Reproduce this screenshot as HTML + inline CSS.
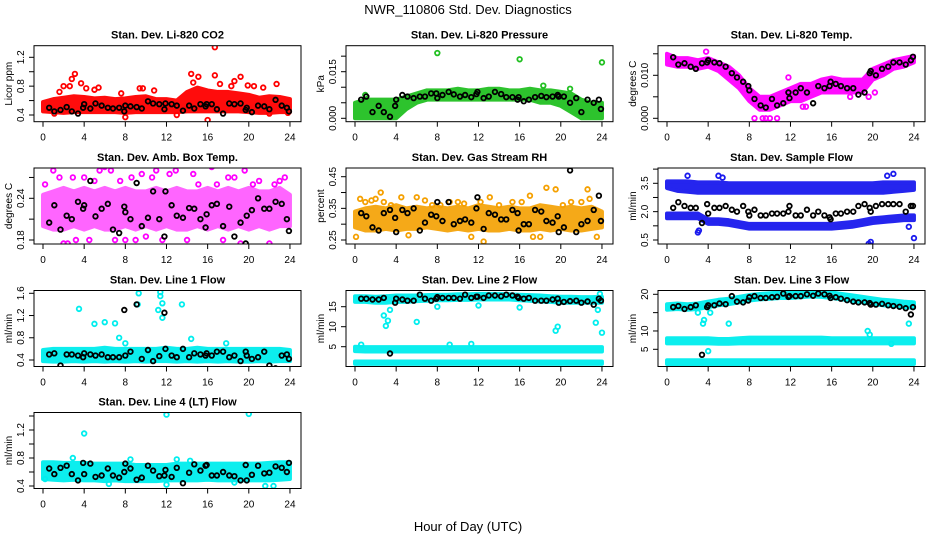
<!DOCTYPE html>
<html><head><meta charset="utf-8"><style>
html,body{margin:0;padding:0;background:#fff}
svg{display:block;font-family:"Liberation Sans",Arial,sans-serif}
</style></head><body>
<svg id="chart" width="936" height="540" viewBox="0 0 936 540"></svg>
<script>
const hours=[0,1,2,3,4,5,6,7,8,9,10,11,12,13,14,15,16,17,18,19,20,21,22,23,24];
const blackHours=[0.6,1.1,1.7,2.3,2.8,3.4,3.9,4.0,4.6,5.1,5.7,6.3,6.8,7.4,7.9,8.0,8.5,9.1,9.6,10.2,10.7,11.3,11.8,11.9,12.5,13.0,13.6,14.2,14.7,15.3,15.8,15.9,16.4,16.9,17.5,18.1,18.6,19.2,19.7,19.8,20.3,20.9,21.5,22.0,22.6,23.2,23.7,23.9];
const xTicks=[0,4,8,12,16,20,24];

const co2Low=[0.45,0.44,0.43,0.44,0.44,0.44,0.44,0.44,0.43,0.44,0.44,0.44,0.44,0.44,0.45,0.45,0.45,0.45,0.45,0.45,0.44,0.43,0.43,0.44,0.44];
const co2High=[0.58,0.62,0.64,0.66,0.65,0.63,0.64,0.62,0.63,0.65,0.66,0.62,0.62,0.6,0.72,0.78,0.74,0.72,0.72,0.7,0.68,0.64,0.66,0.65,0.62];
const co2OutX=[1.6,2,2.6,2.8,3.1,3.7,4.2,5,5.4,7.6,9.4,9.7,10.8,14.4,14.6,15.1,16,16.7,16.7,17.2,18.3,18.6,19.2,19.9,20.5,21.4,22.7,23.8,8,13,1.1,22];
const co2OutY=[0.72,0.8,0.8,0.9,0.97,0.84,0.77,0.75,0.78,0.7,0.77,0.77,0.74,0.97,0.85,0.93,0.33,1.34,0.95,0.83,0.8,0.87,0.93,0.81,0.8,0.78,0.83,0.43,0.37,0.4,0.42,0.42];
const co2Black=[0.5,0.45,0.47,0.51,0.45,0.42,0.5,0.55,0.49,0.56,0.53,0.5,0.49,0.5,0.45,0.53,0.52,0.51,0.49,0.59,0.56,0.55,0.48,0.56,0.55,0.53,0.46,0.53,0.49,0.55,0.52,0.55,0.55,0.48,0.42,0.56,0.55,0.56,0.47,0.5,0.44,0.53,0.52,0.48,0.61,0.53,0.5,0.45];
const presLow=[0,0,0,0,0,0.003,0.005,0.006,0.006,0.006,0.006,0.006,0.006,0.006,0.006,0.006,0.006,0.006,0.005,0.005,0.004,0.002,0,0,0];
const presHigh=[0.005,0.006,0.006,0.006,0.006,0.007,0.008,0.009,0.009,0.009,0.0095,0.009,0.009,0.0095,0.0095,0.009,0.009,0.0095,0.009,0.009,0.0085,0.008,0.006,0.005,0.005];
const presOutX=[8,16,24,18.3,20.9,1];
const presOutY=[0.021,0.019,0.018,0.0105,0.0095,0.0075];
const presBlack=[0.006,0.007,0.002,0.004,0.002,0.0005,0.004,0.006,0.0075,0.007,0.0065,0.007,0.007,0.008,0.008,0.0065,0.0075,0.0085,0.0077,0.007,0.0075,0.0068,0.0078,0.0085,0.0065,0.007,0.0085,0.0078,0.0068,0.0068,0.006,0.0068,0.0055,0.006,0.0068,0.0072,0.0068,0.007,0.0075,0.007,0.007,0.005,0.0065,0.002,0.006,0.005,0.006,0.003];
const tempLow=[0.0125,0.012,0.012,0.0115,0.012,0.011,0.009,0.007,0.004,0.002,0.002,0.003,0.004,0.004,0.005,0.006,0.006,0.006,0.006,0.006,0.009,0.01,0.0115,0.012,0.013];
const tempHigh=[0.015,0.014,0.014,0.0135,0.014,0.013,0.012,0.01,0.007,0.005,0.005,0.006,0.007,0.008,0.008,0.009,0.0095,0.009,0.009,0.009,0.0115,0.0125,0.0135,0.014,0.0145];
const tempOutX=[8.5,9.3,9.6,10,10.7,13.2,13.5,17.8,19.6,20.2,11.8,3.8];
const tempOutY=[0,0,0,0,0,0.0027,0.0027,0.005,0.005,0.006,0.0095,0.0155];
const tempBlack=[0.0142,0.0125,0.0128,0.012,0.0115,0.0128,0.013,0.0135,0.013,0.0128,0.012,0.0105,0.0095,0.0085,0.0075,0.0065,0.0045,0.003,0.0025,0.0045,0.003,0.0035,0.006,0.0047,0.006,0.007,0.006,0.0035,0.0075,0.007,0.0075,0.0085,0.008,0.0075,0.007,0.007,0.0055,0.006,0.0105,0.011,0.01,0.0115,0.012,0.013,0.013,0.0125,0.0135,0.0143];
const ambLow=[0.2,0.195,0.195,0.2,0.195,0.2,0.195,0.195,0.2,0.195,0.2,0.195,0.2,0.195,0.195,0.2,0.195,0.2,0.195,0.2,0.195,0.2,0.195,0.2,0.2];
const ambHigh=[0.245,0.25,0.255,0.25,0.255,0.25,0.255,0.25,0.255,0.25,0.25,0.255,0.25,0.255,0.25,0.25,0.255,0.25,0.255,0.25,0.255,0.25,0.25,0.255,0.245];
const ambOutX=[0.2,0.5,0.8,1,1.4,1.6,2,2.4,2.9,3.2,3.4,4,4.5,5,5.5,6,6.6,7,7.5,8,8.6,9,9.6,10,10.6,11,11.6,12.3,12.9,13.4,14,14.6,15.1,15.6,16.4,16.9,17.5,18,18.6,19.2,19.6,20.4,21,21.5,22,22.5,23,23.5];
const ambOutY=[0.26,0.17,0.165,0.28,0.295,0.27,0.175,0.175,0.27,0.18,0.17,0.27,0.18,0.265,0.28,0.285,0.28,0.18,0.265,0.18,0.27,0.18,0.275,0.185,0.27,0.28,0.18,0.275,0.28,0.16,0.18,0.275,0.26,0.17,0.285,0.26,0.18,0.27,0.27,0.175,0.28,0.26,0.265,0.17,0.175,0.26,0.265,0.27];
const ambBlack=[0.205,0.23,0.195,0.215,0.21,0.235,0.225,0.23,0.265,0.214,0.225,0.232,0.195,0.19,0.228,0.22,0.21,0.262,0.2,0.212,0.25,0.21,0.185,0.25,0.23,0.215,0.212,0.226,0.225,0.21,0.198,0.217,0.23,0.232,0.2,0.228,0.185,0.205,0.175,0.215,0.223,0.24,0.225,0.225,0.235,0.232,0.21,0.193];
const rhLow=[0.29,0.28,0.28,0.285,0.28,0.285,0.285,0.29,0.285,0.28,0.285,0.28,0.285,0.28,0.28,0.285,0.28,0.28,0.285,0.28,0.285,0.28,0.28,0.285,0.29];
const rhHigh=[0.34,0.35,0.355,0.35,0.36,0.35,0.355,0.35,0.355,0.35,0.355,0.35,0.36,0.355,0.35,0.355,0.35,0.35,0.36,0.355,0.35,0.355,0.35,0.355,0.34];
const rhOutX=[0.1,0.5,1,1.6,2,2.5,2.8,3.5,4.5,5.2,6,6.8,7.5,8.3,9.2,10,10.6,11.3,12.2,12.5,13.1,14,15.3,16.2,17,17.3,18,18.6,19.5,20.2,21,22,22.6,22.8,23.5];
const rhOutY=[0.26,0.38,0.37,0.375,0.38,0.4,0.37,0.36,0.385,0.265,0.385,0.375,0.36,0.36,0.37,0.37,0.365,0.26,0.37,0.245,0.385,0.36,0.37,0.37,0.39,0.26,0.26,0.415,0.41,0.36,0.37,0.37,0.41,0.38,0.26];
const rhBlack=[0.335,0.325,0.29,0.28,0.335,0.345,0.32,0.275,0.345,0.335,0.35,0.28,0.305,0.33,0.325,0.37,0.31,0.37,0.3,0.31,0.315,0.305,0.35,0.385,0.285,0.335,0.33,0.315,0.315,0.345,0.335,0.28,0.3,0.3,0.345,0.34,0.31,0.305,0.325,0.275,0.29,0.47,0.275,0.3,0.31,0.345,0.39,0.31];
const sfTopLow=[3.25,3.1,3.05,3.0,3.0,3.0,3.0,3.0,3.0,3.0,3.0,3.0,3.0,3.0,3.0,3.0,3.0,3.0,3.0,3.0,3.0,3.0,3.05,3.1,3.15];
const sfTopHigh=[3.6,3.6,3.6,3.55,3.55,3.55,3.5,3.5,3.5,3.5,3.5,3.5,3.5,3.5,3.5,3.5,3.5,3.5,3.5,3.5,3.5,3.55,3.55,3.55,3.55];
const sfBotLow=[1.65,1.65,1.65,1.65,1.35,1.35,1.3,1.2,1.1,1.1,1.1,1.1,1.1,1.1,1.1,1.1,1.1,1.15,1.2,1.3,1.4,1.45,1.5,1.55,1.55];
const sfBotHigh=[1.9,1.9,1.9,1.9,1.6,1.6,1.55,1.45,1.35,1.35,1.35,1.35,1.35,1.35,1.35,1.35,1.35,1.4,1.45,1.55,1.65,1.7,1.75,1.8,1.8];
const sfOutX=[3,3.1,19.6,19.8,24,21.4,22,2,5,5.4,23.5];
const sfOutY=[0.9,1.0,0.3,0.4,0.6,3.9,4.0,3.9,3.9,3.8,1.2];
const sfBlack=[2.2,2.5,2.3,2.2,2.2,1.4,2.4,1.9,2.2,2.2,2.3,2.1,2.0,2.3,2.0,1.8,2.1,1.8,1.8,1.9,1.9,1.9,2.0,2.3,1.8,1.8,2.1,1.8,2.0,1.8,1.7,1.6,1.9,1.9,2.0,2.0,2.3,2.4,2.2,2.0,2.3,2.4,2.4,2.4,2.4,2.0,2.3,2.3];
const l1Low=[0.38,0.37,0.37,0.38,0.37,0.38,0.37,0.38,0.37,0.38,0.37,0.38,0.38,0.37,0.38,0.37,0.38,0.37,0.38,0.37,0.37,0.38,0.37,0.38,0.38];
const l1High=[0.58,0.6,0.6,0.6,0.6,0.6,0.62,0.6,0.6,0.6,0.6,0.6,0.62,0.6,0.6,0.62,0.6,0.6,0.6,0.6,0.6,0.6,0.6,0.6,0.58];
const l1OutX=[3.5,5,6,7,7.4,8,9.2,9.3,11.2,11.4,11.4,11.6,11.6,13.5,14.4,17.8];
const l1OutY=[1.32,1.05,1.08,1.06,0.8,0.7,1.4,1.6,1.3,1.55,1.62,1.42,1.16,1.4,0.78,0.7];
const l1Black=[0.5,0.52,0.3,0.5,0.5,0.48,0.45,0.52,0.5,0.48,0.5,0.45,0.45,0.45,1.3,0.48,0.55,1.4,0.42,0.58,0.38,0.47,1.25,0.6,0.48,0.45,0.6,0.45,0.52,0.5,0.48,0.52,0.48,0.55,0.55,0.45,0.48,0.38,0.55,0.48,0.42,0.45,0.55,0.3,0.25,0.48,0.5,0.42];
const l2TopLow=[16.2,16.2,16,16,16.2,16.2,16.4,16.5,16.6,16.6,16.7,16.7,16.8,16.8,16.8,16.8,16.6,16.5,16.3,16.2,16,16,16,16,16];
const l2TopHigh=[17.6,17.6,17.5,17.6,17.8,17.8,17.8,17.9,18,18,18.1,18.1,18.2,18.2,18.2,18.1,18,17.9,17.8,17.6,17.5,17.5,17.4,17.4,17.5];
const l2MidLow=[3.9,3.8,3.8,3.8,3.8,3.8,3.8,3.8,3.8,3.8,3.8,3.8,3.8,3.8,3.8,3.8,3.8,3.8,3.8,3.8,3.8,3.8,3.8,3.8,3.8];
const l2MidHigh=[5.0,4.9,4.9,4.9,4.9,4.9,4.9,4.9,4.9,4.9,4.9,4.9,4.9,4.9,4.9,4.9,4.9,4.9,4.9,4.9,4.9,4.9,4.9,4.9,4.9];
const l2BotLow=[0.7,0.7,0.7,0.7,0.7,0.7,0.7,0.7,0.7,0.7,0.7,0.7,0.7,0.7,0.7,0.7,0.7,0.7,0.7,0.7,0.7,0.7,0.7,0.7,0.7];
const l2BotHigh=[1.3,1.3,1.3,1.3,1.3,1.3,1.3,1.3,1.3,1.3,1.3,1.3,1.3,1.3,1.3,1.3,1.3,1.3,1.3,1.3,1.3,1.3,1.3,1.3,1.3];
const l2OutX=[2.8,3,3.2,3.4,6,8,12,16,19.5,19.7,23.4,23.6,24,23.8,0.6,9.2,11.3];
const l2OutY=[12.8,10.2,11.5,14.2,11.2,15,15.3,14.8,9,10,11,14.2,8.5,18.2,5.5,5.5,5.7];
const l2Black=[17,17,16.8,16.8,17.2,3.3,16,17,16.8,16.5,16.5,18,17,16.5,17,17.4,17.2,17.2,17.2,17,18,17.2,17.5,17.5,17.2,17.8,17.8,17.6,18,17.8,17.5,17.2,17,17.2,16.5,16.5,16.5,16.8,17,16,16.2,16.4,16.5,16,16.3,15.5,17,16.5];
const l3TopLow=[15.8,16,15.8,16,16.5,17,17.3,17.8,18.3,18.6,18.8,19,19,19.2,19.4,19.3,19,18.6,18.2,17.8,17.4,17,16.8,16.5,16.3];
const l3TopHigh=[17.3,17.5,17.3,17.5,18,18.5,18.8,19.3,19.8,20.1,20.3,20.5,20.5,20.7,20.9,20.8,20.5,20.1,19.7,19.3,18.9,18.5,18.3,18,17.8];
const l3MidLow=[6.6,6.6,6.6,6.6,6.6,6.5,6.5,6.6,6.6,6.6,6.6,6.6,6.6,6.6,6.6,6.6,6.6,6.6,6.6,6.6,6.6,6.6,6.6,6.6,6.6];
const l3MidHigh=[8,8,8,8,8,7.8,7.8,8,8.2,8.2,8.2,8.2,8.2,8.2,8.2,8.2,8,8,8,8,8,8,8,8,8];
const l3BotLow=[1.0,1.0,1.0,1.0,1.0,1.0,1.0,1.0,1.0,1.0,1.0,1.0,1.0,1.0,1.0,1.0,1.0,1.0,1.0,1.0,1.0,1.0,1.0,1.0,1.0];
const l3BotHigh=[2.0,2.0,2.0,2.0,2.0,2.0,2.0,2.0,2.0,2.0,2.0,2.0,2.0,2.0,2.0,2.0,2.0,2.0,2.0,2.0,2.0,2.0,2.0,2.0,2.0];
const l3OutX=[3.5,3.6,6,4,3,19.5,19.7,21.8,23.5,23.8,4.2];
const l3OutY=[12,13,12,4.5,15,10,9,6.5,12,17.5,15];
const l3Black=[16.5,16.8,16,16.5,17,3.5,16.5,17,17,17.5,17.3,19.5,18,17.8,18.3,19.2,19.5,19,19,19.2,19.3,20.2,19.3,19.5,19.5,19.5,20,19.6,20.2,20,19.6,19,19.2,18.8,18.4,18,17.8,17.8,17.6,17.2,17.2,17.4,17,16.8,16.6,16.2,14.5,16.5];
const l4Low=[0.5,0.49,0.48,0.49,0.48,0.48,0.47,0.48,0.47,0.47,0.47,0.47,0.48,0.48,0.48,0.48,0.49,0.48,0.48,0.48,0.48,0.48,0.48,0.49,0.5];
const l4High=[0.74,0.74,0.73,0.73,0.73,0.72,0.72,0.72,0.72,0.7,0.7,0.7,0.7,0.72,0.72,0.72,0.72,0.72,0.72,0.72,0.72,0.72,0.73,0.74,0.74];
const l4OutX=[4,12,20,2.9,6.4,12,21.6,22.4,0.2,8.5,13,14.3,18.6];
const l4OutY=[1.15,1.42,1.43,0.8,0.43,0.42,0.4,0.4,0.5,0.78,0.78,0.76,0.45];
const l4Black=[0.65,0.57,0.66,0.69,0.57,0.48,0.73,0.57,0.72,0.53,0.55,0.65,0.55,0.52,0.6,0.72,0.65,0.49,0.52,0.69,0.62,0.54,0.55,0.63,0.53,0.66,0.44,0.59,0.71,0.62,0.69,0.7,0.55,0.55,0.6,0.55,0.54,0.48,0.7,0.48,0.56,0.69,0.58,0.59,0.68,0.66,0.6,0.73];

const NS='http://www.w3.org/2000/svg';
const svg=document.getElementById('chart');
function mk(tag,attrs,parent){const e=document.createElementNS(NS,tag);for(const k in attrs)e.setAttribute(k,attrs[k]);(parent||svg).appendChild(e);return e;}

const rowTops=[45.7,168,290.5,412.5];
const BOX_H=76, BOX_W=267;

const panels=[
 {id:'co2',title:'Stan. Dev. Li-820 CO2',ylab:'Licor ppm',col:0,row:0,color:'#ff0000',op:0.95,cal:[0.4,69.3,1.2,11.6],ticks:[0.4,0.6,0.8,1.0,1.2,1.4],labels:[0.4,0.8,1.2],fmt:1,bands:[[co2Low,co2High]],ox:co2OutX,oy:co2OutY,blk:co2Black},
 {id:'pressure',title:'Stan. Dev. Li-820 Pressure',ylab:'kPa',col:1,row:0,color:'#22c022',op:0.95,cal:[0,72.6,0.015,26],ticks:[0,0.005,0.01,0.015,0.02],labels:[0,0.015],fmt:3,bands:[[presLow,presHigh]],ox:presOutX,oy:presOutY,blk:presBlack},
 {id:'licor-temp',title:'Stan. Dev. Li-820 Temp.',ylab:'degrees C',col:2,row:0,color:'#ff00ff',op:0.95,cal:[0,72.6,0.01,29.6],ticks:[0,0.005,0.01,0.015],labels:[0,0.01],fmt:3,bands:[[tempLow,tempHigh]],ox:tempOutX,oy:tempOutY,blk:tempBlack},
 {id:'amb-box-temp',title:'Stan. Dev. Amb. Box Temp.',ylab:'degrees C',col:0,row:1,color:'#ff00ff',op:0.6,cal:[0.18,72,0.24,30.3],ticks:[0.18,0.21,0.24,0.27],labels:[0.18,0.24],fmt:2,bands:[[ambLow,ambHigh]],ox:ambOutX,oy:ambOutY,blk:ambBlack},
 {id:'gas-rh',title:'Stan. Dev. Gas Stream RH',ylab:'percent',col:1,row:1,color:'#f5a000',op:0.9,cal:[0.25,72,0.45,8.7],ticks:[0.25,0.3,0.35,0.4,0.45],labels:[0.25,0.35,0.45],fmt:2,bands:[[rhLow,rhHigh]],ox:rhOutX,oy:rhOutY,blk:rhBlack},
 {id:'sample-flow',title:'Stan. Dev. Sample Flow',ylab:'ml/min',col:2,row:1,color:'#1a1aee',op:0.95,cal:[0.5,72,3.5,15.3],ticks:[0.5,1.25,2.0,2.75,3.5,4.25],labels:[0.5,2.0,3.5],fmt:1,bands:[[sfTopLow,sfTopHigh],[sfBotLow,sfBotHigh]],ox:sfOutX,oy:sfOutY,blk:sfBlack},
 {id:'line1-flow',title:'Stan. Dev. Line 1 Flow',ylab:'ml/min',col:0,row:2,color:'#00eeee',op:0.95,cal:[0.4,69.5,1.6,2.8],ticks:[0.4,0.8,1.2,1.6],labels:[0.4,0.8,1.2,1.6],fmt:1,bands:[[l1Low,l1High]],ox:l1OutX,oy:l1OutY,blk:l1Black},
 {id:'line2-flow',title:'Stan. Dev. Line 2 Flow',ylab:'ml/min',col:1,row:2,color:'#00eeee',op:0.95,cal:[5,56.2,15,16.2],ticks:[5,10,15],labels:[5,10,15],fmt:0,bands:[[l2TopLow,l2TopHigh],[l2MidLow,l2MidHigh],[l2BotLow,l2BotHigh]],ox:l2OutX,oy:l2OutY,blk:l2Black},
 {id:'line3-flow',title:'Stan. Dev. Line 3 Flow',ylab:'ml/min',col:2,row:2,color:'#00eeee',op:0.95,cal:[5,58.8,20,3.8],ticks:[5,10,15,20],labels:[5,10,20],fmt:0,bands:[[l3TopLow,l3TopHigh],[l3MidLow,l3MidHigh],[l3BotLow,l3BotHigh]],ox:l3OutX,oy:l3OutY,blk:l3Black},
 {id:'line4-flow',title:'Stan. Dev. Line 4 (LT) Flow',ylab:'ml/min',col:0,row:3,color:'#00eeee',op:0.95,cal:[0.4,73.5,1.2,17.5],ticks:[0.4,0.6,0.8,1.0,1.2,1.4],labels:[0.4,0.8,1.2],fmt:1,bands:[[l4Low,l4High]],ox:l4OutX,oy:l4OutY,blk:l4Black}
];

const mt=mk('text',{x:468,y:14,'text-anchor':'middle','font-size':13,fill:'#000'});


mt.textContent='NWR_110806  Std. Dev. Diagnostics';
const xl=mk('text',{x:468,y:531,'text-anchor':'middle','font-size':13,fill:'#000'});


xl.textContent='Hour of Day (UTC)';

panels.forEach(p=>{
  const left=34+312*p.col, top=rowTops[p.row], bottom=top+BOX_H;
  const xS=h=>left+9+h*10.29;
  const [v1,p1,v2,p2]=p.cal;
  const yS=v=>top+p1+(v-v1)*(p2-p1)/(v2-v1);
  const g=mk('g',{});
  
  
  const cp=mk('clipPath',{id:'clip-'+p.id},g);
  mk('rect',{x:left,y:top,width:BOX_W,height:BOX_H},cp);
  const plot=mk('g',{'clip-path':'url(#clip-'+p.id+')'},g);
  p.bands.forEach((b,bi)=>{
    const [lo,hi]=b;
    let pts=hours.map((h,i)=>xS(h)+','+yS(hi[i]));
    pts=pts.concat(hours.map((h,i)=>xS(h)+','+yS(lo[i])).reverse());
    const poly=mk('polygon',{points:pts.join(' '),fill:p.color,stroke:p.color,'stroke-width':4,'stroke-linejoin':'round',opacity:p.op},plot);
    
    
  });
  p.ox.forEach((h,i)=>{
    const c=mk('circle',{cx:xS(h),cy:yS(p.oy[i]),r:2.3,fill:'none',stroke:p.color,'stroke-width':1.8},plot);
    
    
  });
  const n=Math.min(blackHours.length,p.blk.length);
  for(let i=0;i<n;i++){
    const c=mk('circle',{cx:xS(blackHours[i]),cy:yS(p.blk[i]),r:2.3,fill:'none',stroke:'#000','stroke-width':1.8},plot);
    
    
  }
  const box=mk('rect',{x:left,y:top,width:BOX_W,height:BOX_H,fill:'none',stroke:'#000','stroke-width':1},g);
  
  
  const t=mk('text',{x:left+BOX_W/2,y:top-7,'text-anchor':'middle','font-size':11,'font-weight':'bold',fill:'#000'},g);
  
  
  t.textContent=p.title;
  xTicks.forEach(h=>{
    mk('line',{x1:xS(h),x2:xS(h),y1:bottom,y2:bottom+5,stroke:'#000'},g);
    const tl=mk('text',{x:xS(h),y:bottom+19,'text-anchor':'middle','font-size':10,fill:'#000'},g);
    
    
    tl.textContent=h;
  });
  p.ticks.forEach(v=>{
    const y=yS(v);
    if(y<top-1||y>bottom+1) return;
    mk('line',{x1:left,x2:left-5,y1:y,y2:y,stroke:'#000'},g);
  });
  p.labels.forEach(v=>{
    const y=yS(v);
    const tl=mk('text',{x:left-10,y:y,'text-anchor':'middle','font-size':10,fill:'#000',transform:'rotate(-90 '+(left-10)+' '+y+')'},g);
    
    
    tl.textContent=v.toFixed(p.fmt);
  });
  const yl=mk('text',{x:left-22,y:top+BOX_H/2,'text-anchor':'middle','font-size':10,fill:'#000',transform:'rotate(-90 '+(left-22)+' '+(top+BOX_H/2)+')'},g);
  
  
  yl.textContent=p.ylab;
});
</script>
</body></html>
